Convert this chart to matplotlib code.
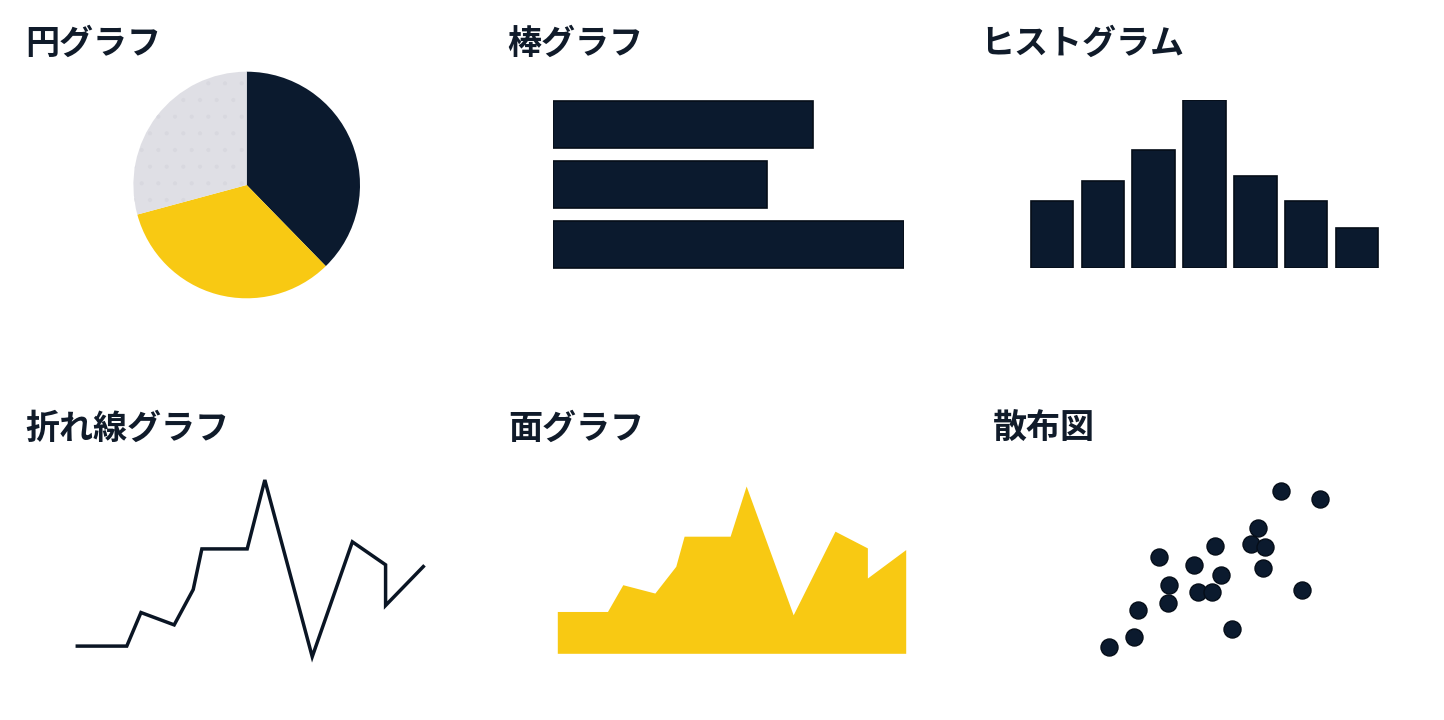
import matplotlib
matplotlib.use("Agg")
import matplotlib.pyplot as plt

plt.rcParams['font.family'] = ['Noto Sans CJK JP', 'DejaVu Sans']
plt.rcParams['hatch.linewidth'] = 0.5

W, H = 1444, 720
DARK = "#0b1a2e"
YELLOW = "#f8c913"
GRAY = "#dfdfe5"
TXT = "#101b2a"

# ---- data ----
titles = ["円グラフ", "棒グラフ", "ヒストグラム", "折れ線グラフ", "面グラフ", "散布図"]

pie_values = [37.7, 33.1, 29.2]
pie_colors = [DARK, YELLOW, GRAY]

bar_values = [74, 61, 100]

hist_values = [40, 52, 70, 100, 55, 40, 24]

line_x = [0, 14.3, 18.4, 28, 33.5, 36, 49.1, 54.2, 67.9, 79.5, 89.1, 89.1, 100]
line_y = [6, 6, 25, 18, 38, 61, 61, 100, 0, 65, 52, 29, 51]

area_x = [0, 14.4, 18.8, 28.0, 34.0, 36.4, 49.6, 54.2, 67.7, 79.7, 89.0, 89.0, 100]
area_y = [25, 25, 41, 36, 52, 70, 70, 100, 23, 73, 63, 45, 62]

scatter_x = [4.0, 14.8, 16.4, 29.7, 30.1, 25.7, 40.9, 50.0, 42.7, 48.6, 52.6, 57.3,
             65.5, 68.8, 71.7, 71.0, 78.6, 95.7, 88.0]
scatter_y = [7.1, 12.9, 27.8, 31.8, 41.7, 57.4, 52.6, 63.5, 37.6, 37.6, 47.2, 17.1,
             64.4, 73.5, 62.6, 50.9, 94.1, 89.3, 38.9]

fig = plt.figure(figsize=(W / 100, H / 100), dpi=100)
fig.patch.set_facecolor("white")


def px_axes(x0, y0, x1, y1):
    """axes from pixel box (top-left origin)"""
    return fig.add_axes([x0 / W, 1 - y1 / H, (x1 - x0) / W, (y1 - y0) / H])


# titles
title_pos = [(25, 43), (507, 43), (980, 43), (25, 428), (508, 428), (993, 428)]
for t, (x, y) in zip(titles, title_pos):
    fig.text(x / W, 1 - y / H, t, fontsize=24.5, fontweight="bold", color=TXT,
             ha="left", va="center")

# pie
cx, cy, r = 246.7, 185.0, 113.3
ax = px_axes(cx - r, cy - r, cx + r, cy + r)
wedges, _ = ax.pie(pie_values, colors=pie_colors, startangle=90, counterclock=False,
                   radius=1, wedgeprops=dict(linewidth=0))
wedges[2].set_hatch(".")
wedges[2].set_edgecolor("#d8d8df")
wedges[2].set_linewidth(0)
ax.set_xlim(-1, 1)
ax.set_ylim(-1, 1)
ax.set_aspect("equal")
ax.axis("off")

# horizontal bars
ax = px_axes(553.3, 94.5, 904.0, 274.5)
ax.barh(range(len(bar_values)), bar_values, height=0.793, color=DARK,
        edgecolor="#050d18", linewidth=1.2)
ax.set_xlim(0, 100)
ax.set_ylim(len(bar_values) - 0.5, -0.5)
ax.axis("off")

# histogram
ax = px_axes(1026.6, 100.0, 1382.4, 268.3)
ax.bar(range(len(hist_values)), hist_values, width=0.837, color=DARK,
       edgecolor="#050d18", linewidth=1.2)
ax.set_xlim(-0.5, len(hist_values) - 0.5)
ax.set_ylim(0, 100)
ax.axis("off")

# line chart
ax = px_axes(77.3, 480.0, 423.3, 656.7)
ax.plot(line_x, line_y, color="#0a1524", linewidth=2.5, clip_on=False,
        solid_joinstyle="miter")
ax.set_xlim(0, 100)
ax.set_ylim(0, 100)
ax.axis("off")

# area chart
ax = px_axes(557.3, 486.0, 905.7, 653.3)
ax.fill_between(area_x, area_y, 0, color=YELLOW, linewidth=0)
ax.set_xlim(0, 100)
ax.set_ylim(0, 100)
ax.axis("off")

# scatter
ax = px_axes(1100, 480, 1330, 660)
ax.scatter(scatter_x, scatter_y, s=150, color=DARK, edgecolors="#050d18",
           linewidths=1.0, clip_on=False)
ax.set_xlim(0, 100)
ax.set_ylim(0, 100)
ax.axis("off")

fig.savefig("out.png", dpi=100, facecolor="white")
